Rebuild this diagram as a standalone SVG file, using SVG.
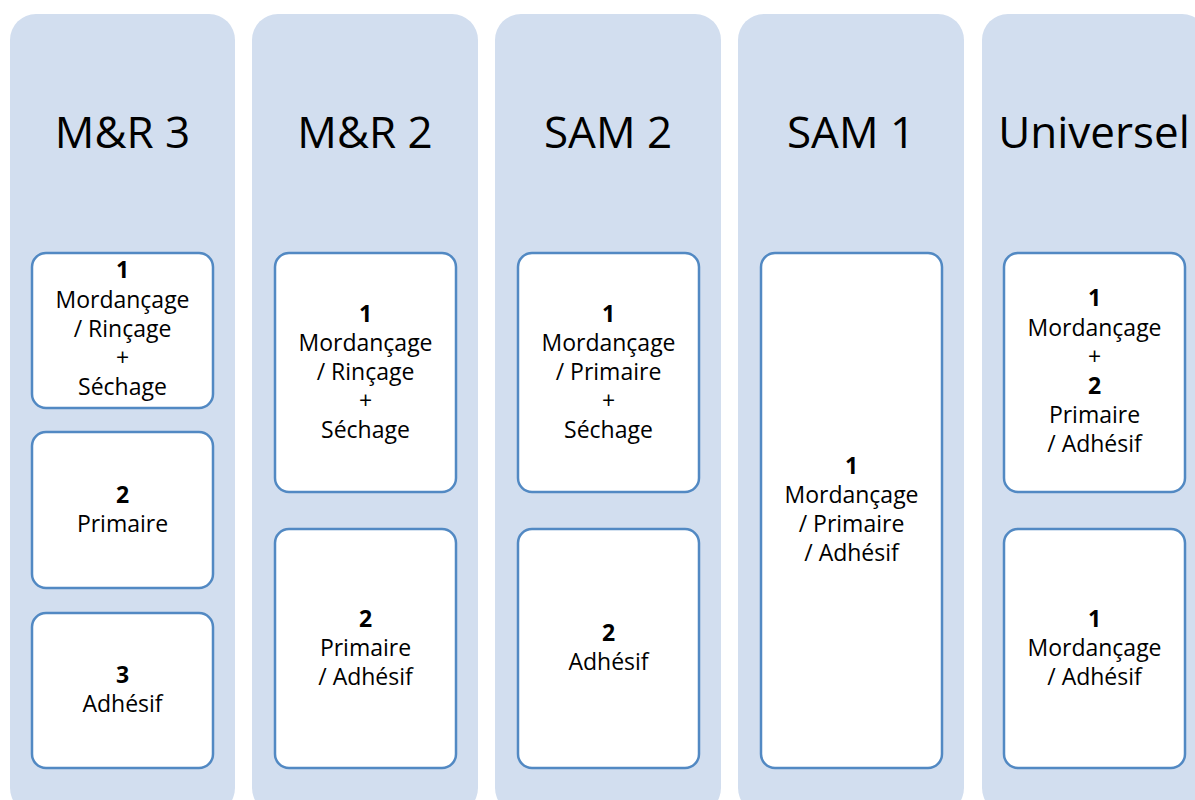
<svg xmlns="http://www.w3.org/2000/svg" width="1195" height="800" viewBox="0 0 1195 800">
<style>
.col{fill:#D2DEEF}
.box{fill:#FFFFFF;stroke:#5289C3;stroke-width:2.5}
.title{font-family:"Open Sans","Liberation Sans",sans-serif;font-size:44px;fill:#000;text-anchor:middle}
.t{font-family:"Open Sans","Liberation Sans",sans-serif;font-size:23px;fill:#000;text-anchor:middle}
.b{font-weight:bold}
</style>
<rect width="1195" height="800" fill="#FFFFFF"/>
<g id="col-mr3">
<rect class="col" x="10" y="14" width="225" height="800" rx="26"/>
<text class="title" x="122.5" y="148">M&amp;R 3</text>
</g>
<g id="col-mr2">
<rect class="col" x="252" y="14" width="226" height="800" rx="26"/>
<text class="title" x="365" y="148">M&amp;R 2</text>
</g>
<g id="col-sam2">
<rect class="col" x="495" y="14" width="226" height="800" rx="26"/>
<text class="title" x="608" y="148">SAM 2</text>
</g>
<g id="col-sam1">
<rect class="col" x="738" y="14" width="226" height="800" rx="26"/>
<text class="title" x="851" y="148">SAM 1</text>
</g>
<g id="col-universel">
<rect class="col" x="982" y="14" width="226" height="800" rx="26"/>
<text class="title" x="1094" y="148">Universel</text>
</g>
<g id="connectors"></g>
<g id="mr3-1">
<rect class="box" x="32" y="253" width="181" height="155" rx="14"/>
<text class="t"><tspan class="b" x="122.5" y="278">1</tspan><tspan x="122.5" y="308">Mordançage</tspan><tspan x="122.5" y="337">/ Rinçage</tspan><tspan x="122.5" y="366">+</tspan><tspan x="122.5" y="395">Séchage</tspan></text>
</g>
<g id="mr3-2">
<rect class="box" x="32" y="432" width="181" height="156" rx="14"/>
<text class="t"><tspan class="b" x="122.5" y="503">2</tspan><tspan x="122.5" y="532">Primaire</tspan></text>
</g>
<g id="mr3-3">
<rect class="box" x="32" y="613" width="181" height="155" rx="14"/>
<text class="t"><tspan class="b" x="122.5" y="683">3</tspan><tspan x="122.5" y="712">Adhésif</tspan></text>
</g>
<g id="mr2-1">
<rect class="box" x="275" y="253" width="181" height="239" rx="14"/>
<text class="t"><tspan class="b" x="365.5" y="322">1</tspan><tspan x="365.5" y="351">Mordançage</tspan><tspan x="365.5" y="380">/ Rinçage</tspan><tspan x="365.5" y="409">+</tspan><tspan x="365.5" y="438">Séchage</tspan></text>
</g>
<g id="mr2-2">
<rect class="box" x="275" y="529" width="181" height="239" rx="14"/>
<text class="t"><tspan class="b" x="365.5" y="627">2</tspan><tspan x="365.5" y="656">Primaire</tspan><tspan x="365.5" y="685">/ Adhésif</tspan></text>
</g>
<g id="sam2-1">
<rect class="box" x="518" y="253" width="181" height="239" rx="14"/>
<text class="t"><tspan class="b" x="608.5" y="322">1</tspan><tspan x="608.5" y="351">Mordançage</tspan><tspan x="608.5" y="380">/ Primaire</tspan><tspan x="608.5" y="409">+</tspan><tspan x="608.5" y="438">Séchage</tspan></text>
</g>
<g id="sam2-2">
<rect class="box" x="518" y="529" width="181" height="239" rx="14"/>
<text class="t"><tspan class="b" x="608.5" y="641">2</tspan><tspan x="608.5" y="670">Adhésif</tspan></text>
</g>
<g id="sam1-1">
<rect class="box" x="761" y="253" width="181" height="515" rx="14"/>
<text class="t"><tspan class="b" x="851.5" y="474">1</tspan><tspan x="851.5" y="503">Mordançage</tspan><tspan x="851.5" y="532">/ Primaire</tspan><tspan x="851.5" y="561">/ Adhésif</tspan></text>
</g>
<g id="universel-1">
<rect class="box" x="1004" y="253" width="181" height="239" rx="14"/>
<text class="t"><tspan class="b" x="1094.5" y="306">1</tspan><tspan x="1094.5" y="336">Mordançage</tspan><tspan x="1094.5" y="365">+</tspan><tspan class="b" x="1094.5" y="394">2</tspan><tspan x="1094.5" y="423">Primaire</tspan><tspan x="1094.5" y="452">/ Adhésif</tspan></text>
</g>
<g id="universel-2">
<rect class="box" x="1004" y="529" width="181" height="239" rx="14"/>
<text class="t"><tspan class="b" x="1094.5" y="627">1</tspan><tspan x="1094.5" y="656">Mordançage</tspan><tspan x="1094.5" y="685">/ Adhésif</tspan></text>
</g>
</svg>
